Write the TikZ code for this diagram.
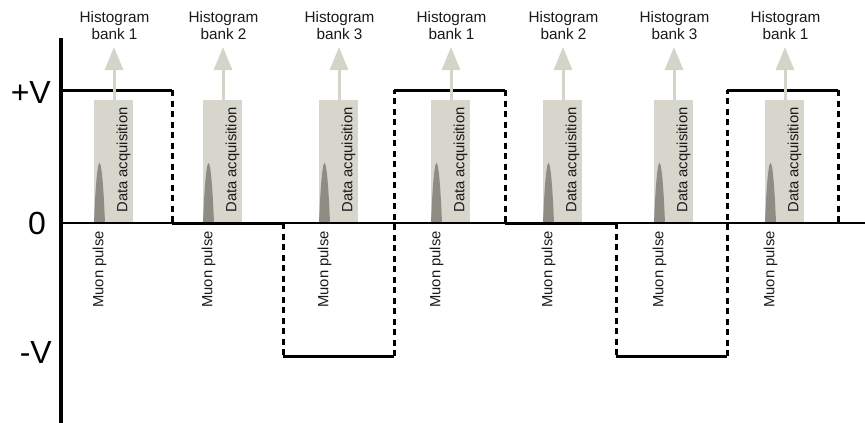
\documentclass[tikz,border=0pt]{standalone}
\usepackage{fontspec}
\setmainfont{Liberation Sans}
\usetikzlibrary{arrows.meta}
\definecolor{acq}{HTML}{D6D6CC}
\definecolor{pulsec}{HTML}{8F8B85}
\definecolor{arrc}{HTML}{D4D4C9}
\definecolor{txt}{HTML}{1A1A1A}
\begin{document}
\begin{tikzpicture}[x=1pt,y=-1pt,
  level/.style={line width=3pt},
  trans/.style={line width=3pt, dash pattern=on 6pt off 4.5pt},
  acqbox/.style={fill=acq, minimum width=39pt, minimum height=123pt, inner sep=0pt, anchor=south west},
  small/.style={font=\fontsize{15.3}{17}\selectfont, text=txt, inner sep=0pt},
  rot/.style={small, font=\fontsize{14.8}{17}\selectfont, rotate=90},
  big/.style={font=\fontsize{32}{36}\selectfont, inner sep=0pt, anchor=base east},
  histarrow/.style={draw=arrc, line width=3pt, -{Triangle[width=18pt,length=23pt]}}
]
\useasboundingbox (0,0) rectangle (865,423);

% acquisition windows and pulses
\foreach \x/\bk [count=\i] in {94/1,203/2,319/3,431/1,543/2,654/3,765/1}{
  \node[acqbox] (b\i) at (\x,223) {};
  \fill[pulsec] (\x,223) .. controls (\x+1.5,185) and (\x+3.5,163) .. (\x+5.5,163)
     .. controls (\x+7.5,163) and (\x+9.5,185) .. (\x+11,223) -- cycle;
}

% zero line
\coordinate (z0) at (61,223);
\coordinate (z1) at (865,223);
\draw[line width=2.6pt] (z0) -- (z1);

% waveform
\coordinate (p0) at (61,90);
\coordinate (p1) at (172,90);
\coordinate (p2) at (172,223);
\coordinate (p3) at (283,223);
\coordinate (p4) at (283,356);
\coordinate (p5) at (394,356);
\coordinate (p6) at (394,90);
\coordinate (p7) at (505,90);
\coordinate (p8) at (505,223);
\coordinate (p9) at (616,223);
\coordinate (p10) at (616,356);
\coordinate (p11) at (727,356);
\coordinate (p12) at (727,90);
\coordinate (p13) at (838,90);
\coordinate (p14) at (838,223);
\draw[level] (p0) -- (p1);
\draw[trans] (p1) -- (p2);
\draw[level] (p2) -- (p3);
\draw[trans] (p3) -- (p4);
\draw[level] (p4) -- (p5);
\draw[trans] (p5) -- (p6);
\draw[level] (p6) -- (p7);
\draw[trans] (p7) -- (p8);
\draw[level] (p8) -- (p9);
\draw[trans] (p9) -- (p10);
\draw[level] (p10) -- (p11);
\draw[trans] (p11) -- (p12);
\draw[level] (p12) -- (p13);
\draw[trans] (p13) -- (p14);

% axis
\coordinate (a0) at (61,38);
\coordinate (a1) at (61,423);
\draw[line width=3.2pt] (a0) -- (a1);

% axis labels
\node[big] (lp) at (51,103) {+V};
\node[big] (l0) at (46,234) {0};
\node[big] (lm) at (52,363) {-V};

% arrows and labels
\foreach \x/\bk [count=\i] in {94/1,203/2,319/3,431/1,543/2,654/3,765/1}{
  \coordinate (t\i) at (\x+20,47);
  \draw[histarrow] (b\i.north -| t\i) -- (t\i);
  \node[small, align=center] (h\i) at (\x+20.5,26) {Histogram\\bank \bk};
  \node[rot] (d\i) at (\x+29.5,160) {Data acquisition};
  \node[rot, anchor=east] (m\i) at (\x+5.5,231) {Muon pulse};
}
\end{tikzpicture}
\end{document}
